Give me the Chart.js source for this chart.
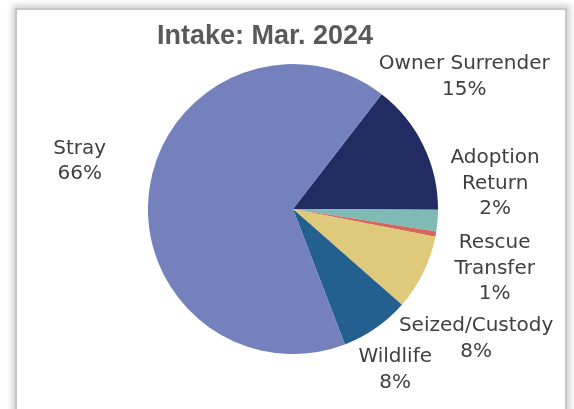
<!DOCTYPE html>
<html>
<head>
<meta charset="utf-8">
<script src="https://cdn.jsdelivr.net/npm/chart.js@4/dist/chart.umd.min.js"></script>
<style>
html,body{margin:0;padding:0;background:#fff;width:574px;height:409px;overflow:hidden;}
#frame{position:absolute;left:15px;top:8px;width:548px;height:420px;border:2px solid #c6c6c6;background:#fff;box-shadow:0 0 6px 3px rgba(0,0,0,0.18);}
#wrap{position:absolute;left:0;top:0;width:574px;height:409px;}
#title{position:absolute;left:115px;width:300px;top:20px;line-height:30px;text-align:center;font:bold 27px "Liberation Sans";color:#595959;}
</style>
</head>
<body>
<div id="frame"></div>
<div id="wrap"><canvas id="pie"></canvas></div>
<div id="title">Intake: Mar. 2024</div>
<script>
// data (percent of intake)
const categories=['Owner Surrender','Adoption Return','Rescue Transfer','Seized/Custody','Wildlife','Stray'];
const shares=[14.6,2.4,0.6,8.4,7.7,66.3];
const colors=['#222b62','#7fbab4','#d5665c','#dfc97b','#236090','#7581bd'];
// label placement relative to pie centre, in radius units
const labelPos=[[1.181,-0.912],[1.394,-0.174],[1.391,0.412],[1.263,0.894],[0.705,1.108],[-1.471,-0.330]];
const labelWrap=[false,true,true,false,false,false];

const outLabels={
id:'outLabels',
afterDatasetsDraw(chart){
const ctx=chart.ctx;
const meta=chart.getDatasetMeta(0);
const total=shares.reduce((a,b)=>a+b,0);
ctx.save();
ctx.font='20px "DejaVu Sans"';
ctx.fillStyle='#404040';
ctx.textAlign='center';
ctx.textBaseline='middle';
meta.data.forEach((arc,i)=>{
const p=arc.getProps(['x','y','outerRadius'],true);
const cx=p.x+labelPos[i][0]*p.outerRadius;
const cy=p.y+labelPos[i][1]*p.outerRadius;
const lines=labelWrap[i]?categories[i].split(' '):[categories[i]];
lines.push(Math.round(shares[i]/total*100)+'%');
const lh=25.5;
lines.forEach((t,k)=>{
ctx.fillText(t,cx,cy+(k-(lines.length-1)/2)*lh);
});
});
ctx.restore();
}
};

new Chart(document.getElementById('pie'),{
type:'pie',
data:{labels:categories,datasets:[{data:shares,backgroundColor:colors,borderWidth:0}]},
options:{
responsive:true,maintainAspectRatio:false,animation:false,
rotation:37.7,
layout:{padding:{top:64,left:148,right:136,bottom:55}},
plugins:{legend:{display:false},tooltip:{enabled:false},title:{display:false}}
},
plugins:[outLabels]
});
</script>
</body>
</html>
